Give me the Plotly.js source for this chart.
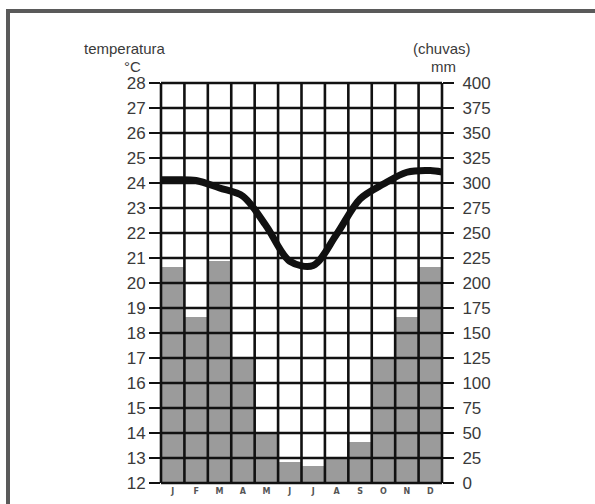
<!DOCTYPE html>
<html>
<head>
<meta charset="utf-8">
<script src="https://cdn.plot.ly/plotly-3.0.1.min.js"></script>
<style>
  html, body { margin: 0; padding: 0; background: #fff; }
  #wrap { position: relative; width: 595px; height: 504px; overflow: hidden; }
  #frame { position: absolute; left: 6px; top: 9px; right: -10px; bottom: -10px;
           border-left: 4px solid #5a5a5a; border-top: 4px solid #5a5a5a; pointer-events: none; z-index: 2; }
  #chart { position: absolute; left: 0; top: 0; width: 595px; height: 504px; }
</style>
</head>
<body>
<div id="wrap">
  <div id="chart"></div>
  <div id="frame"></div>
</div>
<script>
// ---- data ----
const months = ['J', 'F', 'M', 'A', 'M', 'J', 'J', 'A', 'S', 'O', 'N', 'D'];
const rainMm = [216, 166, 222, 125, 50, 21, 17, 25, 41, 125, 166, 216];
// temperature curve (°C), x in month positions (0 = J)
const tempX = [-0.5, 0, 1, 2, 3, 4, 5, 6, 7, 8, 9, 10, 11, 11.55];
const tempC = [24.13, 24.13, 24.1, 23.8, 23.47, 22.27, 20.87, 20.7, 21.95, 23.36, 23.96, 24.43, 24.5, 24.43];
const tempTicks = [12, 13, 14, 15, 16, 17, 18, 19, 20, 21, 22, 23, 24, 25, 26, 27, 28];
const rainTicks = [0, 25, 50, 75, 100, 125, 150, 175, 200, 225, 250, 275, 300, 325, 350, 375, 400];

// ---- layout geometry ----
const W = 595, H = 504;
const mL = 161, mR = 153, mT = 83, mB = 21;
const plotW = W - mL - mR, plotH = H - mT - mB;
const xRange = [-0.5, 11.5];
const tRange = [12, 28];
const pxX = px => (px - mL) / plotW;
const pxY = py => 1 - (py - mT) / plotH;

const gridColor = '#111';
const gridW = 2.6;
const shapes = [];
tempTicks.forEach(t => {
  const f = (t - tRange[0]) / (tRange[1] - tRange[0]);
  shapes.push({type: 'line', layer: 'above', xref: 'paper', yref: 'paper',
    x0: 0, x1: 1, y0: f, y1: f, line: {color: gridColor, width: gridW}});
});
for (let i = 0; i <= months.length; i++) {
  const f = i / months.length;
  shapes.push({type: 'line', layer: 'above', xref: 'paper', yref: 'paper',
    x0: f, x1: f, y0: 0, y1: 1, line: {color: gridColor, width: gridW}});
}

const font = 'Liberation Sans, Arial, sans-serif';
const txtColor = '#3a3a3a';

const traces = [
  {
    type: 'bar', x: months.map((m, i) => i), y: rainMm, yaxis: 'y2',
    width: 1, marker: {color: '#9b9b9b', line: {width: 0}},
    hoverinfo: 'skip', showlegend: false
  },
  {
    type: 'scatter', mode: 'lines', x: tempX, y: tempC,
    line: {color: '#111', width: 7, shape: 'spline', smoothing: 0.9},
    cliponaxis: false, hoverinfo: 'skip', showlegend: false
  }
];

const layout = {
  width: W, height: H,
  margin: {l: mL, r: mR, t: mT, b: mB, pad: 0},
  paper_bgcolor: '#fff', plot_bgcolor: '#fff',
  showlegend: false,
  bargap: 0,
  font: {family: font, color: txtColor},
  xaxis: {
    range: xRange, tickmode: 'array', tickvals: months.map((m, i) => i), ticktext: months,
    showgrid: false, zeroline: false, showline: false, ticks: '',
    tickfont: {family: 'DejaVu Sans, sans-serif', size: 8, color: '#555', weight: 'bold'},
    ticklabelstandoff: 2,
    fixedrange: true
  },
  yaxis: {
    range: tRange, tickmode: 'array', tickvals: tempTicks,
    showgrid: false, zeroline: false, showline: false,
    ticks: 'outside', ticklen: 11, tickwidth: gridW, tickcolor: gridColor,
    tickfont: {family: font, size: 17, color: txtColor},
    fixedrange: true
  },
  yaxis2: {
    range: [0, 400], tickmode: 'array', tickvals: rainTicks, overlaying: 'y', side: 'right',
    showgrid: false, zeroline: false, showline: false,
    ticks: 'outside', ticklen: 11, tickwidth: gridW, tickcolor: gridColor,
    tickfont: {family: font, size: 17, color: txtColor},
    ticklabelstandoff: 5,
    fixedrange: true
  },
  shapes: shapes,
  annotations: [
    {text: 'temperatura', xref: 'paper', yref: 'paper', x: pxX(125), y: pxY(48),
     xanchor: 'center', yanchor: 'middle', showarrow: false, font: {family: font, size: 15, color: txtColor}},
    {text: '°C', xref: 'paper', yref: 'paper', x: pxX(132), y: pxY(67),
     xanchor: 'center', yanchor: 'middle', showarrow: false, font: {family: font, size: 15, color: txtColor}},
    {text: '(chuvas)', xref: 'paper', yref: 'paper', x: pxX(442), y: pxY(48),
     xanchor: 'center', yanchor: 'middle', showarrow: false, font: {family: font, size: 15, color: txtColor}},
    {text: 'mm', xref: 'paper', yref: 'paper', x: pxX(443), y: pxY(67),
     xanchor: 'center', yanchor: 'middle', showarrow: false, font: {family: font, size: 15, color: txtColor}}
  ]
};

Plotly.newPlot('chart', traces, layout, {staticPlot: true, displayModeBar: false});
</script>
</body>
</html>
